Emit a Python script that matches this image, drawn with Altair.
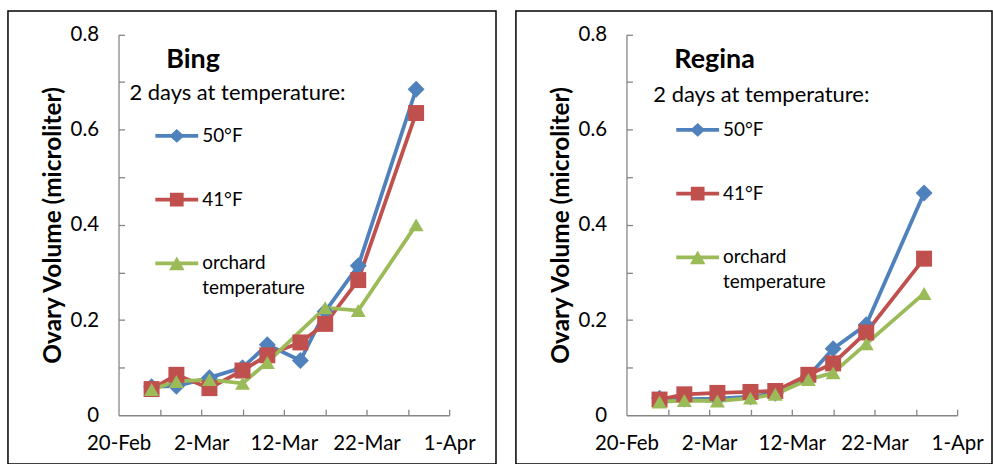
import altair as alt
import pandas as pd

# ---------------- data ----------------
dates = ["2023-02-24", "2023-02-27", "2023-03-03", "2023-03-07", "2023-03-10",
         "2023-03-14", "2023-03-17", "2023-03-21", "2023-03-28"]
series_names = ["50°F", "41°F", "orchard temperature"]
colors = ["#4F81BD", "#C0504D", "#9BBB59"]

bing_50 = [0.060, 0.061, 0.079, 0.100, 0.148, 0.115, 0.218, 0.314, 0.685]
bing_41 = [0.055, 0.085, 0.057, 0.094, 0.126, 0.153, 0.192, 0.284, 0.635]
bing_orchard = [0.054, 0.071, 0.075, 0.067, 0.111, None, 0.226, 0.220, 0.400]

regina_50 = [0.036, 0.034, 0.035, 0.039, 0.046, 0.082, 0.140, 0.190, 0.467]
regina_41 = [0.033, 0.044, 0.047, 0.049, 0.051, 0.085, 0.109, 0.174, 0.329]
regina_orchard = [0.028, 0.031, 0.030, 0.036, 0.044, 0.075, 0.089, 0.150, 0.256]

x_label_days = [(2, 20), (3, 2), (3, 12), (3, 22), (4, 1)]
x_tick_days = [(2, 25), (3, 2), (3, 7), (3, 12), (3, 17), (3, 22), (3, 27), (4, 1)]
y_label_vals = [0, 0.2, 0.4, 0.6, 0.8]
y_tick_vals = [0.1, 0.2, 0.3, 0.4, 0.5, 0.6, 0.7, 0.8]


def make_df(series_lists):
    rows = []
    for name, vals in zip(series_names, series_lists):
        for d, v in zip(dates, vals):
            if v is not None:
                rows.append({"date": d, "series": name, "value": v})
    return pd.DataFrame(rows)


bing_df = make_df([bing_50, bing_41, bing_orchard])
regina_df = make_df([regina_50, regina_41, regina_orchard])

FONT = "Lato"
AXIS_GRAY = "#868686"
PANEL_H = 455

# legend symbols: a line with the series marker in the middle (normalized [-1,1] coords)
legend_paths = [
    "M-1,-0.085H1V0.085H-1Z M0,-0.32L0.35,0L0,0.32L-0.35,0Z",
    "M-1,-0.085H1V0.085H-1Z M-0.32,-0.32H0.32V0.32H-0.32Z",
    "M-1,-0.085H1V0.085H-1Z M0,-0.32L0.36,0.32L-0.36,0.32Z",
]


def dt(m, d):
    return alt.DateTime(year=2023, month=m, date=d, utc=True)


def panel(name, df, width, legend_x, legend_y, title_pad, sym_off, title_offset):
    xscale = alt.Scale(type="utc", domain=[dt(2, 20), dt(4, 1)], range=[111, 443], nice=False)
    yscale = alt.Scale(domain=[0, 0.8], range=[406, 23.7], nice=False)
    base = alt.Chart(df)

    lines = base.mark_line(strokeWidth=3.8).encode(
        x=alt.X("date:T", scale=xscale,
                axis=alt.Axis(orient="bottom", offset=-(PANEL_H - 406),
                              values=[dt(m, d) for m, d in x_label_days],
                              format="%-d-%b", tickSize=0, labelPadding=18,
                              domainColor=AXIS_GRAY, domainWidth=1.3, grid=False,
                              title=None, labelFont=FONT, labelFontSize=20.5,
                              labelColor="black", labelFlush=False, labelOverlap=False)),
        y=alt.Y("value:Q", scale=yscale,
                axis=alt.Axis(orient="left", offset=-111, values=y_label_vals,
                              format=".1~f", tickSize=0, labelPadding=20,
                              domainColor=AXIS_GRAY, domainWidth=1.3, grid=False,
                              title="Ovary Volume (microliter)", titleFont=FONT,
                              titleFontSize=24.5, titleFontWeight="bold", titleColor="black",
                              titlePadding=5, labelFont=FONT, labelFontSize=20.5,
                              labelColor="black", labelFlush=False, labelOverlap=False)),
        color=alt.Color("series:N", scale=alt.Scale(domain=series_names, range=colors), legend=None),
    )

    points = base.mark_point(filled=True, opacity=1).encode(
        x=alt.X("date:T", scale=xscale,
                axis=alt.Axis(orient="top", offset=-406,
                              values=[dt(m, d) for m, d in x_tick_days],
                              labels=False, domain=False, tickSize=6, tickColor=AXIS_GRAY,
                              tickWidth=1.3, grid=False, title=None)),
        y=alt.Y("value:Q", scale=yscale,
                axis=alt.Axis(orient="right", offset=-(width - 111), values=y_tick_vals,
                              labels=False, domain=False, tickSize=6, tickColor=AXIS_GRAY,
                              tickWidth=1.3, grid=False, title=None)),
        color=alt.Color("series:N", scale=alt.Scale(domain=series_names, range=colors), legend=None),
        shape=alt.Shape("series:N", scale=alt.Scale(domain=series_names,
                                                    range=["diamond", "square", "triangle-up"]),
                        legend=None),
        size=alt.Size("series:N", scale=alt.Scale(domain=series_names, range=[289, 225, 256]),
                      legend=None),
    )

    leg_props = dict(
        orient="none", legendX=legend_x, legendY=legend_y,
        title="2 days at temperature:", titleFont=FONT, titleFontSize=22,
        titleFontWeight="normal", titleColor="black", titlePadding=title_pad,
        titleLimit=500,
        labelFont=FONT, labelFontSize=19, labelColor="black", labelOffset=4,
        symbolSize=1849, symbolOffset=sym_off, symbolStrokeWidth=0,
        rowPadding=32, padding=0, labelLimit=300,
        labelExpr="datum.label == 'orchard temperature' ? ['orchard', 'temperature'] : datum.label",
    )
    leg = base.transform_filter("false").mark_point(filled=True, opacity=1).encode(
        color=alt.Color("series:N", scale=alt.Scale(domain=series_names, range=colors),
                        legend=alt.Legend(**leg_props)),
        shape=alt.Shape("series:N", scale=alt.Scale(domain=series_names, range=legend_paths),
                        legend=alt.Legend(**leg_props)),
    )

    return alt.layer(lines, points, leg).resolve_scale(
        color="independent", shape="independent", size="independent"
    ).resolve_axis(x="independent", y="independent").properties(
        width=width, height=PANEL_H,
        title=alt.Title(name, anchor="start", frame="group", dx=159, offset=title_offset,
                        baseline="middle", font=FONT, fontSize=27, fontWeight="bold",
                        color="black"),
    )


left = panel("Bing", bing_df, 490, 122, 72, 10, 26, -76)
right = panel("Regina", regina_df, 478, 138, 74, 2, 23, -76)

chart = alt.hconcat(left, right, spacing=18).resolve_scale(
    color="independent", shape="independent", size="independent"
).properties(
    padding={"left": 7, "top": 9, "right": 0, "bottom": 0},
    background="white",
).configure(
    style={"guide-label": {"lineHeight": 25}}
).configure_view(stroke="black", strokeWidth=1.5)

chart.save("out.html", embed_options={"renderer": "svg", "actions": False})
